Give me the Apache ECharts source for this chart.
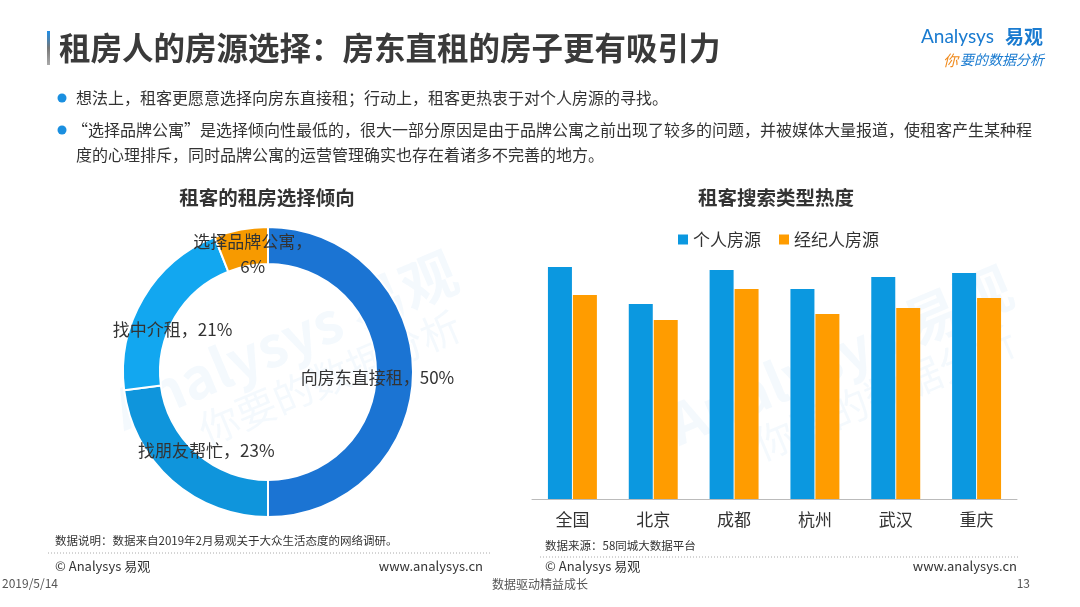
<!DOCTYPE html>
<html>
<head>
<meta charset="utf-8">
<script src="https://cdn.jsdelivr.net/npm/echarts@6/dist/echarts.min.js"></script>
<style>
  html, body { margin: 0; padding: 0; background: #fff; }
  #main { width: 1080px; height: 607px; }
</style>
</head>
<body>
<div id="main"></div>
<script>
// 租房选择倾向 (donut)
var choiceNames = ['向房东直接租', '找朋友帮忙', '找中介租', '选择品牌公寓'];
var choiceValues = [50, 23, 21, 6];
var choiceColors = ['#1b74d3', '#0f95dc', '#12a7f0', '#f79a00'];
// labels sit a bit inward of the ring middle in the original
var choiceLabelOffsets = [[-20, 6], [24, -19], [16, 23], [9, 9]];

// 搜索类型热度 (bars, relative heat, no axis given)
var cities = ['全国', '北京', '成都', '杭州', '武汉', '重庆'];
var personalValues = [232, 195, 229, 210, 222, 226];
var agentValues = [204, 179, 210, 185, 191, 201];

var font = '"Noto Sans CJK SC", "Noto Sans", sans-serif';
var chart = echarts.init(document.getElementById('main'));

function txt(x, y, text, size, color, extra) {
  var s = { text: text, fontSize: size, fill: color, fontFamily: font };
  for (var k in extra) s[k] = extra[k];
  return { type: 'text', x: x, y: y, style: s, silent: true };
}

function watermark(x, y) {
  return { type: 'group', x: x, y: y, rotation: 0.4, z: -10, silent: true, children: [
    txt(-150, -30, 'Analysys 易观', 56, 'rgba(40,140,220,0.05)', { fontWeight: 'bold' }),
    txt(-80, 30, '你要的数据分析', 40, 'rgba(40,140,220,0.05)')
  ]};
}

var option = {
  backgroundColor: '#fff',
  textStyle: { fontFamily: font },
  graphic: [
    watermark(255, 355),
    watermark(810, 370),
    // header
    { type: 'rect', shape: { x: 47, y: 31, width: 3, height: 34 }, silent: true,
      style: { fill: new echarts.graphic.LinearGradient(0, 0, 0, 1, [
        { offset: 0, color: '#1e8ee8' }, { offset: 0.5, color: '#777' }, { offset: 1, color: '#aaa' }]) } },
    txt(59, 48, '租房人的房源选择：房东直租的房子更有吸引力', 31.5, '#3a3a3a', { fontWeight: 'bold', verticalAlign: 'middle' }),
    txt(921, 37, 'Analysys', 19, '#1a7bd0', { verticalAlign: 'middle', fontFamily: 'Lato, sans-serif' }),
    txt(1005, 37, '易观', 19, '#1a7bd0', { fontWeight: 'bold', verticalAlign: 'middle' }),
    txt(943, 60, '你', 15, '#f08a1c', { fontStyle: 'italic', verticalAlign: 'middle' }),
    txt(960, 60, '要的数据分析', 14, '#1a7bd0', { fontStyle: 'italic', verticalAlign: 'middle' }),
    // bullets
    { type: 'circle', shape: { cx: 62, cy: 98, r: 4.5 }, style: { fill: '#1a8fe0' }, silent: true },
    { type: 'circle', shape: { cx: 62, cy: 130, r: 4.5 }, style: { fill: '#1a8fe0' }, silent: true },
    txt(76, 98, '想法上，租客更愿意选择向房东直接租；行动上，租客更热衷于对个人房源的寻找。', 16, '#333', { verticalAlign: 'middle' }),
    txt(72, 130, '“选择品牌公寓”是选择倾向性最低的，很大一部分原因是由于品牌公寓之前出现了较多的问题，并被媒体大量报道，使租客产生某种程', 16, '#333', { verticalAlign: 'middle' }),
    txt(76, 155, '度的心理排斥，同时品牌公寓的运营管理确实也存在着诸多不完善的地方。', 16, '#333', { verticalAlign: 'middle' }),
    // chart titles
    txt(267, 198, '租客的租房选择倾向', 19.5, '#333', { fontWeight: 'bold', align: 'center', verticalAlign: 'middle' }),
    txt(776, 198, '租客搜索类型热度', 19.5, '#333', { fontWeight: 'bold', align: 'center', verticalAlign: 'middle' }),
    // footers
    txt(55, 541, '数据说明：数据来自2019年2月易观关于大众生活态度的网络调研。', 11.5, '#333', { verticalAlign: 'middle' }),
    { type: 'line', shape: { x1: 48, y1: 553, x2: 490, y2: 553 }, silent: true,
      style: { stroke: '#aaa', lineWidth: 1, lineDash: [1, 2] } },
    txt(55, 566, '© Analysys 易观', 13, '#333', { verticalAlign: 'middle' }),
    txt(483, 566, 'www.analysys.cn', 13, '#333', { verticalAlign: 'middle', align: 'right' }),
    txt(545, 546, '数据来源：58同城大数据平台', 11.5, '#333', { verticalAlign: 'middle' }),
    { type: 'line', shape: { x1: 540, y1: 557, x2: 1020, y2: 557 }, silent: true,
      style: { stroke: '#aaa', lineWidth: 1, lineDash: [1, 2] } },
    txt(545, 566, '© Analysys 易观', 13, '#333', { verticalAlign: 'middle' }),
    txt(1017, 566, 'www.analysys.cn', 13, '#333', { verticalAlign: 'middle', align: 'right' }),
    txt(2, 583, '2019/5/14', 12, '#555', { verticalAlign: 'middle' }),
    txt(540, 584, '数据驱动精益成长', 12, '#555', { verticalAlign: 'middle', align: 'center' }),
    txt(1030, 583, '13', 12, '#555', { verticalAlign: 'middle', align: 'right' })
  ],
  legend: {
    data: ['个人房源', '经纪人房源'],
    left: 673, top: 226,
    itemWidth: 10, itemHeight: 10, itemGap: 18,
    icon: 'rect',
    textStyle: { fontSize: 17, color: '#333', fontFamily: font }
  },
  grid: { left: 532, right: 63, top: 259, bottom: 108 },
  xAxis: {
    type: 'category',
    data: cities,
    axisTick: { show: false },
    axisLine: { lineStyle: { color: '#bbb', width: 1 } },
    axisLabel: { fontSize: 17, color: '#333', margin: 12, fontFamily: font }
  },
  yAxis: { type: 'value', min: 0, max: 240, show: false, splitLine: { show: false } },
  series: [
    {
      type: 'pie',
      center: [268, 372],
      radius: [108, 145],
      startAngle: 90,
      clockwise: true,
      silent: true,
      itemStyle: { borderColor: '#fff', borderWidth: 2 },
      label: {
        position: 'inside',
        fontSize: 17,
        color: '#333',
        fontFamily: font,
        lineHeight: 25,
        formatter: function (p) {
          return p.value < 10 ? p.name + '，\n' + p.value + '%' : p.name + '，' + p.value + '%';
        }
      },
      labelLine: { show: false },
      data: choiceNames.map(function (n, i) {
        return { name: n, value: choiceValues[i], itemStyle: { color: choiceColors[i] },
          label: { offset: choiceLabelOffsets[i] } };
      })
    },
    {
      name: '个人房源', type: 'bar', data: personalValues,
      barWidth: 24, barGap: '4%',
      itemStyle: { color: '#0b98e0' }
    },
    {
      name: '经纪人房源', type: 'bar', data: agentValues,
      barWidth: 24,
      itemStyle: { color: '#ff9c00' }
    }
  ]
};
chart.setOption(option);
</script>
</body>
</html>
